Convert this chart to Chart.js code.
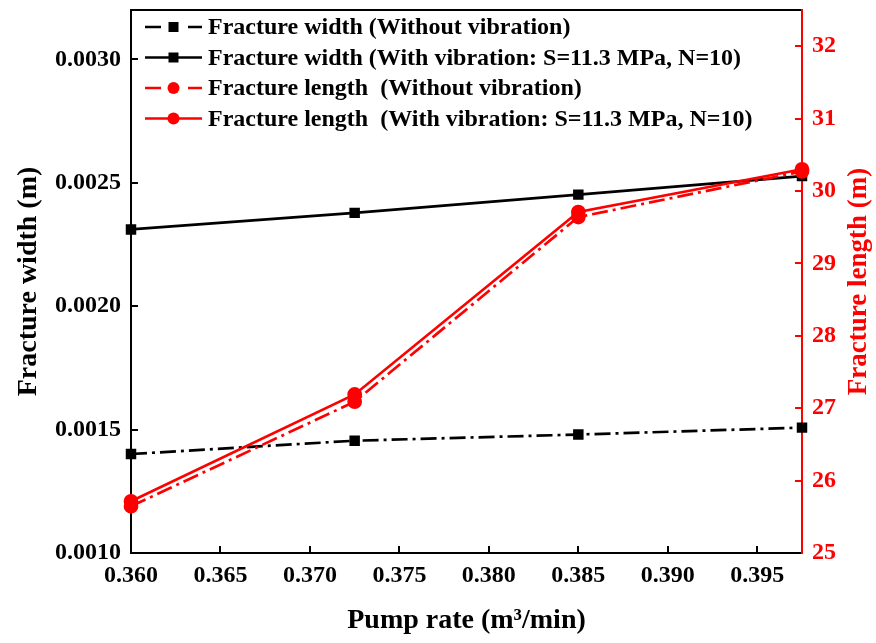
<!DOCTYPE html>
<html>
<head>
<meta charset="utf-8">
<script src="https://cdn.jsdelivr.net/npm/chart.js@4.4.1/dist/chart.umd.min.js"></script>
<style>
  html, body { margin: 0; padding: 0; background: #fff; }
  #wrap { width: 876px; height: 643px; }
</style>
</head>
<body>
<div id="wrap"><canvas id="c" width="876" height="643"></canvas></div>
<script>
// ---- data ----
const pumpRate = [0.36, 0.3725, 0.385, 0.3975];
const widthWithout = [0.001401, 0.001455, 0.00148, 0.001508];
const widthWith = [0.002311, 0.002378, 0.002452, 0.002527];
const lengthWithout = [25.645, 27.09, 29.64, 30.27];
const lengthWith = [25.715, 27.19, 29.71, 30.30];

const seriesLabels = [
  'Fracture width (Without vibration)',
  'Fracture width (With vibration: S=11.3 MPa, N=10)',
  'Fracture length  (Without vibration)',
  'Fracture length  (With vibration: S=11.3 MPa, N=10)'
];
const xTitle = 'Pump rate (m\u00B3/min)';
const yLeftTitle = 'Fracture width (m)';
const yRightTitle = 'Fracture length (m)';

const FONT = '"Liberation Serif", "Times New Roman", serif';
const RED = '#ff0000';
const DASHDOT = [16, 5, 3, 5];

const toPts = (ys) => pumpRate.map((x, i) => ({ x: x, y: ys[i] }));

const insideLegend = {
  id: 'insideLegend',
  afterDraw(chart) {
    const ctx = chart.ctx;
    const a = chart.chartArea;
    chart.data.datasets.forEach((ds, i) => {
      const y = a.top + 17 + i * 30.5;
      const x0 = a.left + 14, x1 = a.left + 71, xm = (x0 + x1) / 2;
      ctx.save();
      ctx.strokeStyle = ds.borderColor;
      ctx.lineWidth = ds.borderWidth;
      ctx.beginPath();
      if (ds.borderDash && ds.borderDash.length) {
        ctx.moveTo(x0, y); ctx.lineTo(x0 + 16, y);
        ctx.moveTo(x1 - 14, y); ctx.lineTo(x1, y);
      } else {
        ctx.moveTo(x0, y); ctx.lineTo(x1, y);
      }
      ctx.stroke();
      ctx.fillStyle = ds.pointBackgroundColor;
      const r = ds.pointRadius;
      if (ds.pointStyle === 'rect') {
        ctx.fillRect(xm - r + 0.5, y - r + 0.5, 2 * r - 1, 2 * r - 1);
      } else {
        ctx.beginPath(); ctx.arc(xm, y, r, 0, Math.PI * 2); ctx.fill();
      }
      ctx.fillStyle = '#000';
      ctx.font = 'bold 24px ' + FONT;
      ctx.textBaseline = 'middle';
      ctx.textAlign = 'left';
      ctx.fillText(ds.label, a.left + 77, y + 1);
      ctx.restore();
    });
    // right axis title, reading bottom-to-top
    ctx.save();
    ctx.fillStyle = RED;
    ctx.font = 'bold 27px ' + FONT;
    ctx.textAlign = 'center';
    ctx.textBaseline = 'middle';
    ctx.translate(859, (a.top + a.bottom) / 2);
    ctx.rotate(-Math.PI / 2);
    ctx.fillText(yRightTitle, 0, 0);
    ctx.restore();
  }
};

const noVertPad = (s, w) => { s.width = w; s.paddingTop = 0; s.paddingBottom = 0; };
const noHorzPad = (s, h) => { s.height = h; s.paddingLeft = 0; s.paddingRight = 0; };

new Chart(document.getElementById('c'), {
  type: 'line',
  data: {
    datasets: [
      { label: seriesLabels[0], data: toPts(widthWithout), yAxisID: 'y', borderColor: '#000', backgroundColor: '#000',
        pointBackgroundColor: '#000', pointBorderColor: '#000', borderDash: DASHDOT, borderWidth: 2.7,
        pointStyle: 'rect', pointRadius: 5.5, order: 3 },
      { label: seriesLabels[1], data: toPts(widthWith), yAxisID: 'y', borderColor: '#000', backgroundColor: '#000',
        pointBackgroundColor: '#000', pointBorderColor: '#000', borderWidth: 2.7,
        pointStyle: 'rect', pointRadius: 5.5, order: 2 },
      { label: seriesLabels[2], data: toPts(lengthWithout), yAxisID: 'y2', borderColor: RED, backgroundColor: RED,
        pointBackgroundColor: RED, pointBorderColor: RED, borderDash: DASHDOT, borderWidth: 2.7,
        pointStyle: 'circle', pointRadius: 6, order: 1 },
      { label: seriesLabels[3], data: toPts(lengthWith), yAxisID: 'y2', borderColor: RED, backgroundColor: RED,
        pointBackgroundColor: RED, pointBorderColor: RED, borderWidth: 2.7,
        pointStyle: 'circle', pointRadius: 6, order: 0 }
    ]
  },
  options: {
    responsive: false,
    animation: false,
    devicePixelRatio: 1,
    layout: { padding: 0 },
    elements: { line: { tension: 0 }, point: { borderWidth: 0 } },
    datasets: { line: { clip: false } },
    plugins: { legend: { display: false }, tooltip: { enabled: false } },
    scales: {
      x: {
        type: 'linear', position: 'bottom', min: 0.36, max: 0.3975,
        afterFit: (s) => noHorzPad(s, 90),
        ticks: { stepSize: 0.005, includeBounds: false, padding: 15, color: '#000',
          font: { family: FONT, size: 24, weight: 'bold' },
          callback: (v) => v.toFixed(3) },
        grid: { drawOnChartArea: false, tickLength: -7, color: '#000', lineWidth: 2 },
        border: { color: '#000', width: 2 },
        title: { display: true, text: xTitle, color: '#000', padding: { top: 0, bottom: 5 },
          font: { family: FONT, size: 28, weight: 'bold' } }
      },
      xTop: {
        type: 'linear', position: 'top', min: 0.36, max: 0.3975,
        afterFit: (s) => noHorzPad(s, 10),
        ticks: { display: false },
        grid: { drawOnChartArea: false, drawTicks: false },
        border: { color: '#000', width: 2 }
      },
      y: {
        type: 'linear', position: 'left', min: 0.001, max: 0.0032,
        afterFit: (s) => noVertPad(s, 131),
        ticks: { stepSize: 0.0005, includeBounds: false, padding: 17, color: '#000',
          font: { family: FONT, size: 24, weight: 'bold' },
          callback: (v) => v.toFixed(4) },
        grid: { drawOnChartArea: false, tickLength: -7, color: '#000', lineWidth: 2 },
        border: { color: '#000', width: 2 },
        title: { display: true, text: yLeftTitle, color: '#000', padding: { top: 12, bottom: 0 },
          font: { family: FONT, size: 28, weight: 'bold' } }
      },
      y2: {
        type: 'linear', position: 'right', min: 25, max: 32.5,
        afterFit: (s) => noVertPad(s, 74),
        ticks: { stepSize: 1, includeBounds: false, padding: 17, color: RED,
          font: { family: FONT, size: 24, weight: 'bold' },
          callback: (v) => String(v) },
        grid: { drawOnChartArea: false, tickLength: -7, color: RED, lineWidth: 2 },
        border: { color: RED, width: 2 },
        title: { display: false }
      }
    }
  },
  plugins: [insideLegend]
});
</script>
</body>
</html>
